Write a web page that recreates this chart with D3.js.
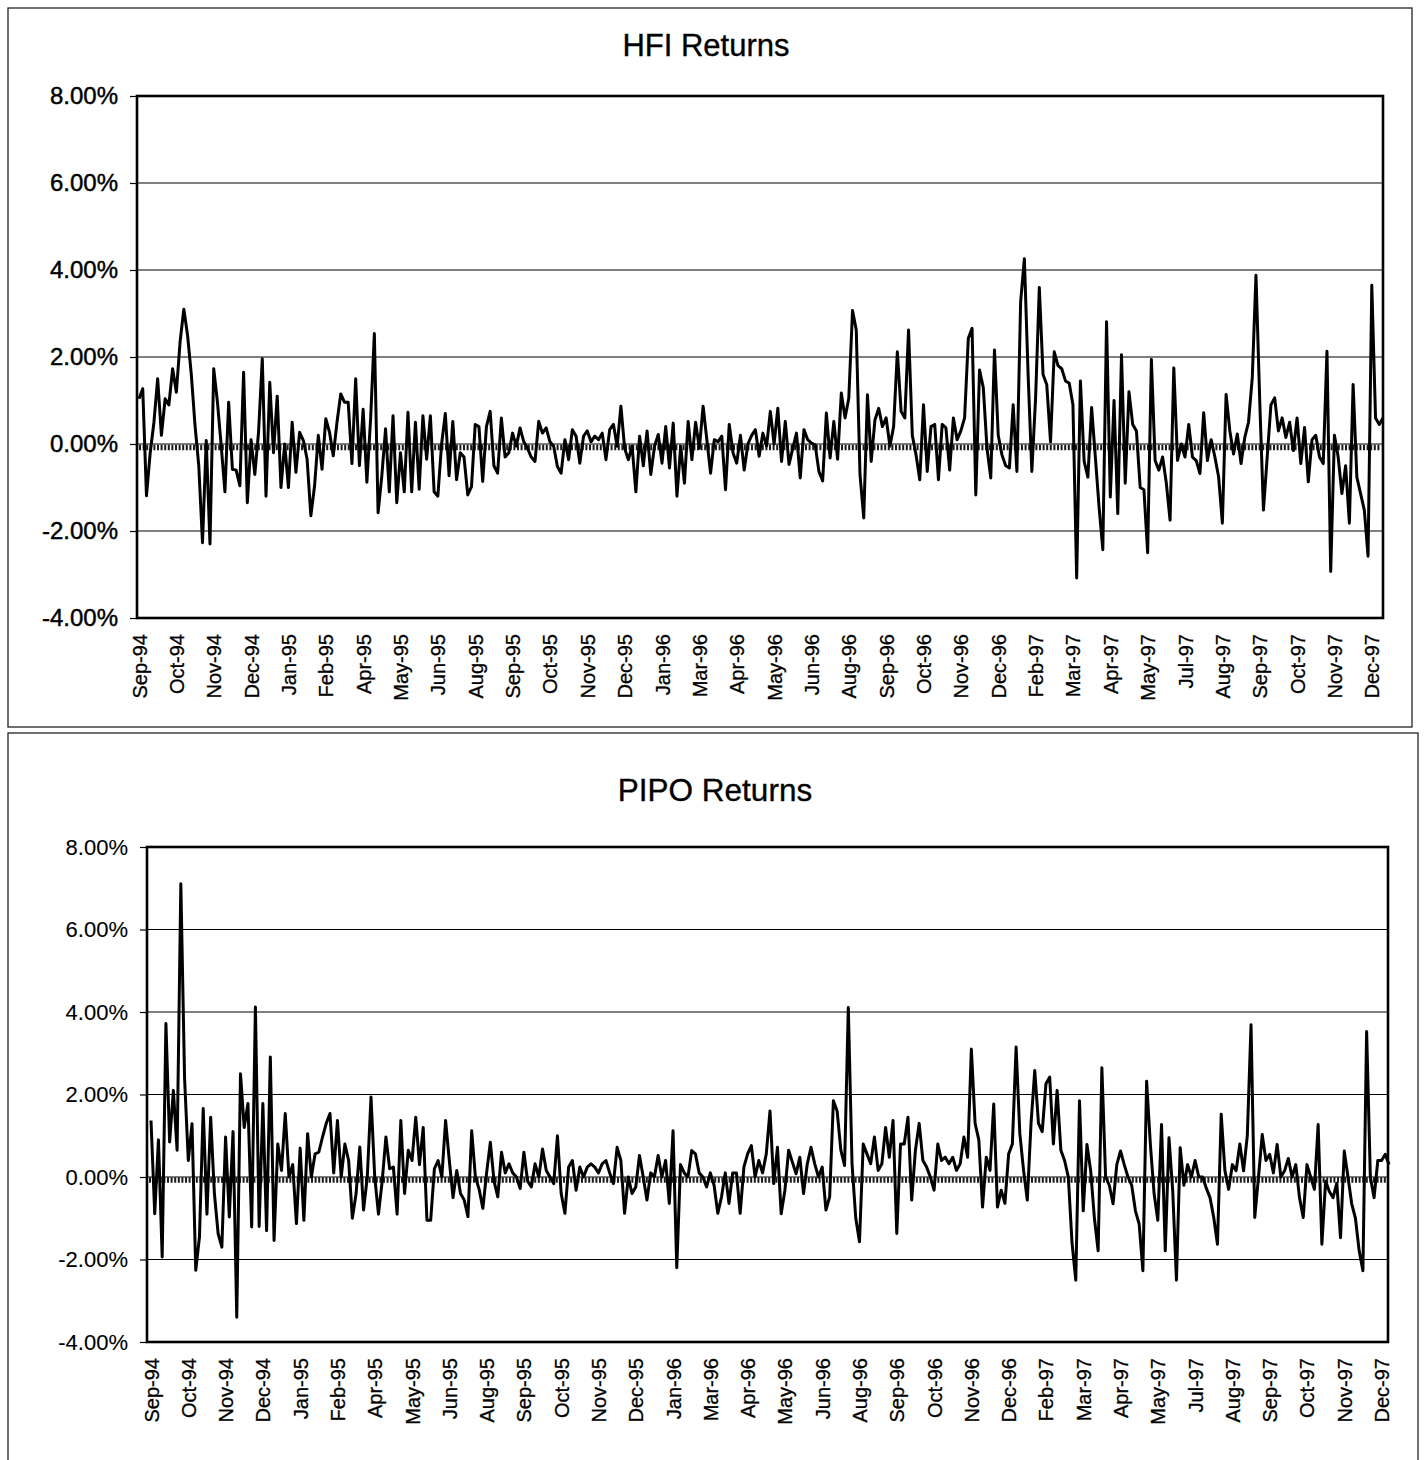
<!DOCTYPE html>
<html><head><meta charset="utf-8">
<script src="https://cdn.jsdelivr.net/npm/d3@7"></script>
<style>
body{margin:0;background:#fff}
svg{display:block}
text{font-family:"Liberation Sans",Arial,Helvetica,sans-serif;fill:#000}
</style>
</head><body>
<svg id="chart" width="1427" height="1460"></svg>
<script>
// ---- data ----
const monthLabels = ["Sep-94","Oct-94","Nov-94","Dec-94","Jan-95","Feb-95","Apr-95","May-95","Jun-95","Aug-95","Sep-95","Oct-95","Nov-95","Dec-95","Jan-96","Mar-96","Apr-96","May-96","Jun-96","Aug-96","Sep-96","Oct-96","Nov-96","Dec-96","Feb-97","Mar-97","Apr-97","May-97","Jul-97","Aug-97","Sep-97","Oct-97","Nov-97","Dec-97"];
const labelEvery = 10; // one label every 10 sampled points
const yTickValues = [-4, -2, 0, 2, 4, 6, 8];

// HFI returns (%), sampled along the series
const hfiReturns = [
1.04,1.27,-1.19,-0.2,0.5,1.5,0.2,1.04,0.9,1.73,
1.19,2.35,3.1,2.5,1.6,0.42,-0.5,-2.27,0.08,-2.3,
1.73,0.96,-0.04,-1.1,0.96,-0.58,-0.6,-0.96,1.65,-1.35,
0.1,-0.7,0.27,1.96,-1.2,1.42,-0.2,1.1,-1.0,0.0,
-1.0,0.5,-0.65,0.27,0.08,-0.35,-1.65,-0.96,0.2,-0.58,
0.58,0.27,-0.27,0.5,1.15,0.96,0.96,-0.45,1.5,-0.5,
0.8,-0.88,0.58,2.54,-1.58,-0.73,0.35,-1.1,0.65,-1.35,
-0.2,-1.1,0.73,-1.1,0.5,-1.04,0.65,-0.35,0.65,-1.1,
-1.2,0.0,0.7,-0.73,
0.52,-0.82,-0.2,-0.3,-1.17,-0.98,0.45,0.4,-0.86,0.4,
0.75,-0.5,-0.67,0.6,-0.3,-0.2,0.25,-0.05,0.37,0.05,
-0.1,-0.3,-0.4,0.52,0.25,0.37,0.05,-0.05,-0.52,-0.67,
0.1,-0.36,0.33,0.18,-0.44,0.18,0.3,0.05,0.18,0.1,
0.25,-0.36,0.33,0.45,-0.05,0.87,-0.1,-0.36,-0.05,-1.1,
0.18,-0.5,0.3,-0.7,-0.05,0.22,-0.44,0.4,-0.55,0.48,
-1.2,-0.05,-0.9,0.52,-0.36,0.5,-0.1,0.87,0.1,-0.67,
0.1,0.05,0.18,-1.05,0.45,-0.2,-0.44,0.2,-0.6,0.0,
0.2,0.33,-0.28,
0.25,-0.05,0.75,0.0,0.82,-0.4,0.52,-0.47,-0.1,0.25,
-0.78,0.33,0.1,0.02,-0.02,-0.63,-0.85,0.71,-0.32,0.52,
-0.35,1.17,0.6,1.05,3.07,2.62,-0.7,-1.7,1.13,-0.4,
0.55,0.82,0.4,0.6,-0.05,0.4,2.12,0.75,0.6,2.62,
0.2,-0.25,-0.82,0.9,-0.63,0.4,0.45,-0.82,0.45,0.37,
-0.6,0.6,0.1,0.3,0.6,2.43,2.66,-1.17,1.7,1.3,
-0.1,-0.78,2.16,0.2,-0.25,-0.5,-0.55,0.9,-0.63,
3.27,4.26,1.6,-0.63,1.05,3.6,1.6,1.36,0.05,2.12,1.8,1.73,1.45,1.4,
0.9,-3.08,1.45,-0.4,-0.76,0.84,-0.3,-1.45,-2.43,2.81,
-1.22,1.0,-1.6,2.05,-0.9,1.2,0.45,0.3,-1.0,-1.05,
-2.5,1.94,-0.38,-0.6,-0.3,-0.9,-1.75,1.75,-0.38,0.0,
-0.3,0.45,-0.3,-0.38,-0.68,0.72,-0.38,0.1,-0.3,-0.76,
-1.82,1.14,0.3,-0.23,0.23,-0.45,0.15,0.5,1.52,3.88,
1.0,-1.52,-0.3,0.9,1.06,0.3,0.6,0.15,0.5,-0.15,
0.6,-0.45,0.38,-0.87,0.1,0.2,-0.3,-0.45,2.13,-2.93,
0.2,-0.3,-1.14,-0.5,-1.82,1.37,-0.76,-1.14,-1.52,-2.58,
3.65,0.6,0.45,0.6
];

// PIPO returns (%), sampled along the series
const pipoReturns = [
1.37,-0.89,0.9,-1.94,3.72,0.85,2.1,0.65,7.11,2.4,
0.4,1.29,-2.26,-1.45,1.66,-0.9,1.45,-0.4,-1.37,-1.7,
0.97,-0.97,1.1,-3.4,2.5,1.2,1.78,-1.21,
4.12,-1.2,1.78,-1.3,2.91,-1.54,0.8,0.16,1.54,0.0,
0.3,-1.13,0.7,-1.05,1.05,0.0,0.56,0.6,0.97,1.3,
1.54,0.1,1.37,0.0,0.8,0.4,-1.0,-0.4,0.73,-0.8,
0.0,1.94,0.0,-0.9,-0.1,0.97,0.2,0.24,-0.9,1.37,
-0.4,0.65,0.4,1.45,0.3,1.2,-1.05,-1.05,0.2,0.4,
0.0,1.37,0.4,-0.5,0.16,
-0.4,-0.56,-0.96,1.12,0.0,-0.3,-0.76,0.1,0.84,-0.1,
-0.48,0.6,0.1,0.32,0.1,0.0,-0.28,0.6,-0.1,-0.24,
0.32,0.0,0.68,0.16,0.0,-0.16,1.0,-0.4,-0.88,0.24,
0.4,-0.32,0.24,0.0,0.24,0.32,0.24,0.1,0.32,0.4,
0.1,-0.16,0.72,0.4,-0.88,0.0,-0.4,-0.24,0.52,0.0,
-0.56,0.1,0.0,0.52,0.0,0.4,-0.64,1.12,-2.2,0.3,
0.1,0.0,0.64,0.56,0.1,0.0,-0.24,0.1,-0.2,-0.88,
-0.48,0.1,-0.64,0.1,0.1,-0.88,0.24,0.56,0.76,0.0,
0.4,0.1,0.56,1.6,
-0.16,0.72,-0.89,-0.32,0.65,0.36,0.08,0.48,-0.4,0.32,
0.72,0.32,0.0,0.24,-0.8,-0.48,1.85,1.6,0.65,0.28,
4.11,0.32,-1.0,-1.57,0.8,0.56,0.32,0.97,0.16,0.32,
1.2,0.48,1.37,-1.37,0.8,0.8,1.45,-0.56,0.65,1.3,
0.4,0.24,0.0,-0.32,0.8,0.4,0.48,0.32,0.48,0.16,
0.32,0.97,0.48,3.1,1.3,0.9,-0.73,0.48,0.16,1.77,
-0.73,-0.32,-0.64,0.56,0.8,3.15,1.05,0.16,-0.56,1.3,
2.58,1.3,1.1,2.26,2.42,0.8,2.1,0.65,0.4,0.0,
-1.6,-2.5,1.85,
-0.82,0.79,0.15,-1.0,-1.79,2.65,0.0,-0.2,-0.65,0.3,
0.63,0.3,0.0,-0.2,-0.82,-1.14,-2.27,2.32,0.8,-0.4,
-1.05,1.27,-1.79,0.95,-0.34,-2.5,0.71,-0.2,0.3,0.0,
0.4,0.0,0.0,-0.27,-0.5,-0.98,-1.63,1.52,0.15,-0.3,
0.3,0.15,0.8,0.15,1.0,3.69,-0.98,0.0,1.03,0.4,
0.55,0.1,0.79,0.0,0.15,0.45,0.0,0.3,-0.5,-0.98,
0.3,0.0,-0.3,1.27,-1.63,-0.1,-0.35,-0.5,-0.15,-1.47,
0.63,0.0,-0.65,-1.0,-1.79,-2.27,3.53,0.0,-0.5,0.4,
0.4,0.55,0.3
];

// reference (hatched) level drawn just under zero
const hfiReference = -0.08;
const pipoReference = -0.07;

// ---- drawing ----
const svg = d3.select("#chart");
const pct = d => d3.format(".2f")(d).replace("\u2212", "-") + "%";

function drawPanel(cfg) {
  const g = svg.append("g");
  // outer frame
  g.append("rect").attr("x", cfg.frame[0]).attr("y", cfg.frame[1])
    .attr("width", cfg.frame[2]).attr("height", cfg.frame[3])
    .attr("fill", "none").attr("stroke", "#222").attr("stroke-width", 1.3);

  const x = d3.scaleLinear().domain([0, cfg.values.length - 1]).range(cfg.xRange);
  const y = d3.scaleLinear().domain([-4, 8]).range([cfg.bottom, cfg.top]);

  // title
  g.append("text").attr("x", cfg.titleX).attr("y", cfg.titleY)
    .attr("text-anchor", "middle").attr("font-size", cfg.titleSize)
    .attr("stroke", "#000").attr("stroke-width", 0.35).text(cfg.title);

  // gridlines
  g.append("g").selectAll("line").data(yTickValues.filter(v => v > -4 && v < 8)).join("line")
    .attr("x1", cfg.left).attr("x2", cfg.right)
    .attr("y1", d => y(d)).attr("y2", d => y(d))
    .attr("stroke", "#000").attr("stroke-width", 1.1);

  // y axis with ticks + labels
  const yAxis = d3.axisLeft(y).tickValues(yTickValues).tickSize(7).tickPadding(12)
    .tickFormat(pct);
  const ya = g.append("g").attr("transform", `translate(${cfg.left},0)`).call(yAxis);
  ya.select(".domain").remove();
  ya.selectAll(".tick line").attr("stroke", "#000").attr("stroke-width", 1.2);
  ya.selectAll(".tick text").attr("font-size", cfg.yFont).attr("fill", "#000")
    .attr("stroke", "#000").attr("stroke-width", cfg.yStroke)
    .attr("font-family", '"Liberation Sans",Arial,sans-serif');

  // hatched reference line
  g.append("line").attr("x1", cfg.left + 2).attr("x2", cfg.right - 2)
    .attr("y1", y(cfg.reference)).attr("y2", y(cfg.reference))
    .attr("stroke", "#1a1a1a").attr("stroke-width", 5.5)
    .attr("stroke-dasharray", "2,1.6");

  // data line
  const line = d3.line().x((d, i) => x(i)).y(d => y(d));
  g.append("path").datum(cfg.values).attr("d", line)
    .attr("fill", "none").attr("stroke", "#000").attr("stroke-width", 3)
    .attr("stroke-linejoin", "round");

  // plot frame
  g.append("rect").attr("x", cfg.left).attr("y", cfg.top)
    .attr("width", cfg.right - cfg.left).attr("height", cfg.bottom - cfg.top)
    .attr("fill", "none").attr("stroke", "#000").attr("stroke-width", 2.6);

  // x labels (category axis)
  const xAxis = d3.axisBottom(x)
    .tickValues(monthLabels.map((m, k) => k * labelEvery))
    .tickSize(0).tickPadding(0)
    .tickFormat((d) => monthLabels[d / labelEvery]);
  const xa = g.append("g").attr("transform", `translate(0,${cfg.bottom})`).call(xAxis);
  xa.select(".domain").remove();
  xa.selectAll(".tick text")
    .attr("font-size", cfg.xFont).attr("fill", "#000")
    .attr("stroke", "#000").attr("stroke-width", 0.3)
    .attr("font-family", '"Liberation Sans",Arial,sans-serif')
    .attr("text-anchor", "end")
    .attr("transform", `translate(0,${cfg.xLabelGap}) rotate(-90)`)
    .attr("x", 0).attr("y", 0).attr("dy", "0.35em");
}

drawPanel({
  title: "HFI Returns", titleX: 706, titleY: 56, titleSize: 31,
  frame: [8, 8, 1404, 719],
  left: 137, right: 1383, top: 96, bottom: 618,
  xRange: [139, 1383],
  values: hfiReturns, reference: hfiReference,
  yFont: 24, yStroke: 0.45, xFont: 20, xLabelGap: 16
});

drawPanel({
  title: "PIPO Returns", titleX: 715, titleY: 801, titleSize: 31.5,
  frame: [8, 733, 1410, 740],
  left: 147, right: 1388, top: 847, bottom: 1342,
  xRange: [151, 1389],
  values: pipoReturns, reference: pipoReference,
  yFont: 22, yStroke: 0.1, xFont: 20, xLabelGap: 16
});
</script>
</body></html>
